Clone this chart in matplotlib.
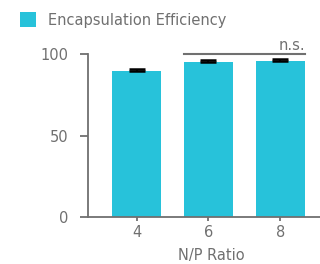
import matplotlib.pyplot as plt

# data
ratios = ["4", "6", "8"]
efficiency = [89.8, 95.3, 95.9]
err_upper = [1.3, 0.8, 1.0]

gray = "#707070"
cyan = "#27C2DA"

plt.rcParams["font.family"] = "DejaVu Sans"

fig = plt.figure(figsize=(3.2, 2.64), dpi=100)
ax = fig.add_axes([0.275, 0.178, 0.725, 0.617])

x = range(len(ratios))
ax.bar(x, efficiency, width=0.68, color=cyan, label="Encapsulation Efficiency",
       clip_on=False, zorder=2)
ax.errorbar(x, efficiency, yerr=[[0] * len(err_upper), err_upper], fmt="none",
            ecolor="black", elinewidth=1.2, capsize=5.5, capthick=1.8,
            clip_on=False, zorder=3)

# n.s. bracket between 6 and 8
ax.plot([1 - 0.34, 2 + 0.34], [100, 100], color=gray, lw=1.5, clip_on=False)
ax.text(2 + 0.34, 100.5, "n.s.", ha="right", va="bottom", color=gray, fontsize=10.5)

ax.set_xlim(-0.674, 2.549)
ax.set_ylim(0, 100)
ax.set_xticks(list(x))
ax.set_xticklabels(ratios)
ax.set_yticks([0, 50, 100])

for side in ["top", "right"]:
    ax.spines[side].set_visible(False)
for side in ["left", "bottom"]:
    ax.spines[side].set_color(gray)
    ax.spines[side].set_linewidth(1.3)

ax.tick_params(axis="y", colors=gray, labelsize=10.5, length=6, width=1.3, pad=8)
ax.tick_params(axis="x", colors=gray, labelsize=10.5, length=3, width=1.3, pad=3)
ax.set_xlabel("N/P Ratio", color=gray, fontsize=10.5)
ax.xaxis.set_label_coords((211 - 88) / 232, -0.19)

fig.legend(loc="upper left", bbox_to_anchor=(0.043, 0.975), frameon=False,
           fontsize=10.5, handlelength=1.15, handleheight=1.15, handletextpad=0.8,
           labelcolor=gray, borderaxespad=0)

fig.savefig("out.png", dpi=100)
